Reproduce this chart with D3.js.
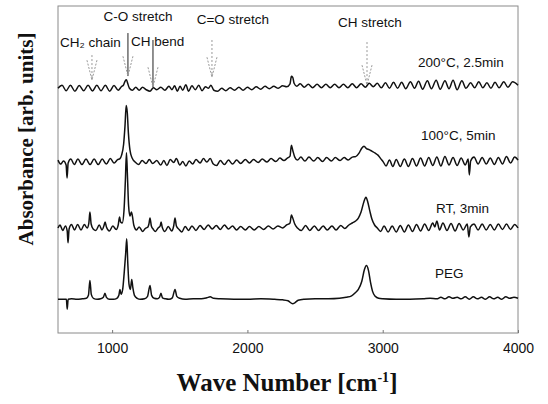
<!DOCTYPE html>
<meta charset="utf-8">
<style>
body { margin: 0; background: #fff; }
.axis path { display: none; }
.axis text { font: 14px "Liberation Sans", Arial, sans-serif; fill: #111; }
.axis line { stroke: #777; }
.note { font: 13.5px "Liberation Sans", Arial, sans-serif; fill: #111; }
.title { font-family: "Liberation Serif", "Times New Roman", serif; font-weight: bold; fill: #111; }
</style>
<svg width="548" height="404" class="top"></svg>
<script src="https://d3js.org/d3.v7.min.js"></script>
<script>

// wave number ticks
var xTicks = [1000, 2000, 3000, 4000];

// spectra: [wave number, absorbance above own baseline] (arb. units)
var peg = [[600,0.0],[640,0.0],[662,0.0],[668,-1.0],[675,0.0],[700,0.05],[740,0.0],[780,0.05],[810,0.1],[825,0.4],[836,1.9],[846,0.5],[862,0.1],[890,0.0],[915,0.05],[935,0.2],[947,0.6],[958,0.2],[980,0.0],[1010,0.0],[1035,0.1],[1050,0.4],[1058,1.0],[1066,0.5],[1078,1.0],[1090,2.8],[1100,4.6],[1108,6.1],[1116,3.6],[1125,1.5],[1135,1.0],[1145,2.0],[1153,1.2],[1165,0.4],[1185,0.1],[1210,0.0],[1240,0.05],[1262,0.3],[1280,1.4],[1292,0.4],[1310,0.1],[1335,0.05],[1350,0.2],[1361,0.6],[1372,0.15],[1395,0.05],[1420,0.0],[1445,0.15],[1465,1.0],[1478,0.3],[1500,0.1],[1540,0.0],[1600,0.05],[1660,0.05],[1700,0.15],[1725,0.25],[1750,0.1],[1800,0.05],[1900,0.0],[2000,0.0],[2100,0.05],[2200,0.0],[2260,-0.05],[2300,-0.15],[2335,-0.45],[2350,-0.35],[2375,-0.1],[2420,0.0],[2500,0.05],[2600,0.05],[2680,0.1],[2730,0.2],[2770,0.35],[2800,0.7],[2820,1.0],[2845,1.8],[2865,3.0],[2880,3.4],[2895,2.9],[2910,1.7],[2925,0.8],[2945,0.3],[2970,0.1],[3000,0.05],[3100,0.0],[3200,0.0],[3300,0.05],[3350,0.1],[3400,0.05],[3430,0.2],[3460,0.05],[3490,0.25],[3520,0.1],[3550,0.2],[3580,0.05],[3610,0.25],[3640,0.0],[3670,0.25],[3700,0.05],[3730,0.2],[3760,0.0],[3790,0.25],[3820,0.05],[3850,0.2],[3880,0.0],[3910,0.25],[3940,0.1],[3970,0.2],[4000,0.1]];

var rt3 = [[600,0.0],[615,0.3],[635,-0.25],[655,0.2],[668,-0.3],[674,-1.5],[682,-0.1],[700,0.35],[722,-0.2],[745,0.35],[770,-0.2],[795,0.35],[815,0.0],[828,0.5],[836,1.6],[845,0.4],[860,-0.1],[880,-0.25],[905,0.3],[925,-0.2],[940,0.25],[948,0.6],[958,0.1],[980,-0.3],[1005,0.2],[1030,-0.15],[1045,0.3],[1055,1.1],[1063,0.6],[1075,0.5],[1088,1.8],[1098,4.8],[1106,7.6],[1114,5.0],[1122,2.2],[1132,1.2],[1142,1.6],[1150,1.2],[1160,0.3],[1180,-0.2],[1200,0.1],[1225,-0.35],[1245,-0.05],[1265,0.1],[1272,0.4],[1280,1.0],[1290,0.2],[1305,-0.15],[1320,-0.35],[1340,0.0],[1355,0.2],[1362,0.6],[1370,0.1],[1390,-0.35],[1415,0.15],[1440,-0.3],[1455,0.2],[1465,1.0],[1475,0.2],[1495,-0.15],[1515,-0.4],[1540,0.15],[1565,-0.25],[1590,0.2],[1620,-0.25],[1650,0.25],[1680,-0.15],[1710,0.3],[1740,-0.1],[1770,0.25],[1800,-0.15],[1830,0.3],[1860,-0.1],[1890,0.2],[1920,-0.2],[1950,0.15],[1985,-0.2],[2015,0.15],[2050,-0.2],[2085,0.15],[2120,-0.15],[2155,0.2],[2190,-0.1],[2225,0.2],[2260,0.0],[2290,0.3],[2315,0.5],[2325,1.3],[2335,1.0],[2350,0.4],[2370,0.0],[2400,-0.25],[2430,0.25],[2460,-0.25],[2495,0.2],[2525,-0.25],[2560,0.2],[2590,-0.2],[2625,0.2],[2655,-0.2],[2690,0.25],[2720,-0.05],[2750,0.3],[2775,0.5],[2800,0.7],[2820,1.0],[2840,1.6],[2860,2.6],[2876,3.1],[2890,2.6],[2905,1.7],[2920,0.9],[2940,0.3],[2960,0.0],[2985,-0.35],[3010,0.2],[3040,-0.4],[3070,0.2],[3100,-0.4],[3130,0.25],[3160,-0.4],[3190,0.3],[3220,-0.35],[3250,0.35],[3280,-0.3],[3310,0.4],[3340,-0.25],[3370,0.5],[3385,0.1],[3400,0.7],[3420,-0.2],[3445,0.5],[3475,-0.25],[3505,0.45],[3535,-0.3],[3565,0.45],[3595,-0.2],[3625,0.4],[3637,-0.9],[3648,0.1],[3675,0.4],[3705,-0.2],[3735,0.4],[3765,-0.2],[3795,0.35],[3825,-0.2],[3855,0.4],[3885,-0.15],[3915,0.4],[3945,-0.15],[3975,0.35],[4000,0.0]];

var c100 = [[600,0.2],[620,-0.2],[640,0.1],[660,-0.3],[667,-1.6],[675,-0.1],[695,0.3],[720,-0.25],[747,0.3],[777,-0.25],[807,0.3],[837,-0.25],[867,0.3],[897,-0.25],[927,0.3],[957,-0.2],[987,0.35],[1015,-0.1],[1040,0.25],[1058,0.35],[1070,0.7],[1085,1.8],[1095,3.6],[1104,5.7],[1112,5.0],[1120,3.0],[1132,1.2],[1148,0.4],[1170,0.0],[1195,-0.25],[1222,0.15],[1250,-0.15],[1275,0.25],[1300,-0.15],[1330,0.15],[1360,-0.3],[1382,0.15],[1405,-0.35],[1430,0.25],[1455,-0.05],[1475,0.35],[1500,-0.3],[1522,0.05],[1545,-0.4],[1570,0.1],[1595,-0.2],[1620,0.25],[1650,-0.1],[1675,0.35],[1700,0.0],[1725,0.35],[1748,-0.2],[1772,-0.35],[1800,0.15],[1830,-0.25],[1860,0.2],[1890,-0.2],[1920,0.2],[1950,-0.15],[1985,0.25],[2015,-0.1],[2045,0.25],[2080,-0.05],[2110,0.3],[2145,0.0],[2175,0.35],[2210,0.05],[2240,0.4],[2270,0.15],[2295,0.4],[2315,0.6],[2325,1.7],[2335,1.2],[2350,0.5],[2370,0.2],[2395,0.5],[2425,0.1],[2455,0.5],[2490,0.1],[2520,0.45],[2555,0.05],[2585,0.45],[2620,0.1],[2650,0.45],[2685,0.15],[2715,0.45],[2745,0.2],[2775,0.5],[2800,0.55],[2825,0.9],[2845,1.4],[2862,1.6],[2880,1.35],[2900,1.25],[2920,1.1],[2945,0.9],[2965,0.7],[2985,0.35],[3005,0.0],[3025,-0.4],[3050,0.2],[3075,-0.45],[3100,0.25],[3130,-0.45],[3160,0.3],[3190,-0.45],[3220,0.35],[3250,-0.4],[3280,0.4],[3310,-0.4],[3340,0.45],[3370,-0.35],[3400,0.5],[3430,-0.4],[3460,0.55],[3490,-0.3],[3520,0.45],[3550,-0.35],[3580,0.4],[3610,-0.3],[3632,0.3],[3640,-1.3],[3650,0.1],[3675,0.5],[3705,-0.2],[3735,0.45],[3765,-0.2],[3795,0.4],[3825,-0.25],[3855,0.45],[3885,-0.2],[3915,0.55],[3945,-0.1],[3975,0.5],[4000,0.2]];

var c200 = [[600,0.0],[630,0.3],[660,-0.25],[692,0.3],[725,-0.3],[757,0.28],[790,-0.25],[822,0.3],[855,-0.28],[887,0.3],[918,-0.25],[950,0.3],[982,-0.3],[1014,0.28],[1045,-0.2],[1068,0.15],[1085,0.35],[1097,0.75],[1106,0.85],[1115,0.5],[1128,0.0],[1150,-0.2],[1175,0.1],[1200,-0.2],[1225,0.1],[1252,-0.15],[1280,-0.3],[1305,0.05],[1330,-0.15],[1360,0.1],[1390,-0.2],[1420,0.2],[1442,-0.15],[1462,0.25],[1482,-0.3],[1502,0.2],[1522,-0.2],[1545,0.35],[1565,-0.3],[1590,0.25],[1615,-0.15],[1640,0.3],[1665,-0.25],[1690,0.15],[1712,0.0],[1730,0.3],[1752,-0.2],[1780,-0.3],[1810,0.0],[1840,-0.25],[1872,0.05],[1905,-0.2],[1937,0.1],[1968,-0.2],[2000,0.1],[2032,-0.15],[2065,0.15],[2098,-0.1],[2130,0.2],[2162,-0.05],[2195,0.2],[2228,0.0],[2260,0.25],[2290,0.15],[2315,0.45],[2325,1.2],[2335,1.1],[2345,0.5],[2365,0.2],[2390,0.45],[2420,0.1],[2450,0.4],[2482,0.05],[2515,0.4],[2547,0.05],[2580,0.4],[2612,0.05],[2645,0.4],[2677,0.05],[2710,0.4],[2742,0.05],[2775,0.45],[2807,0.05],[2840,0.45],[2872,0.1],[2900,0.5],[2930,0.15],[2960,0.5],[2990,0.05],[3020,0.55],[3050,0.0],[3080,0.6],[3110,0.0],[3140,0.6],[3170,-0.05],[3205,0.65],[3235,0.0],[3265,0.7],[3295,-0.1],[3330,0.75],[3360,-0.05],[3395,0.8],[3425,-0.1],[3460,0.75],[3490,-0.05],[3520,0.8],[3550,-0.15],[3585,0.75],[3615,0.0],[3650,0.55],[3680,0.05],[3710,0.65],[3740,0.05],[3770,0.55],[3800,0.0],[3830,0.6],[3860,0.05],[3895,0.65],[3925,0.1],[3960,0.65],[4000,0.3]];

var seriesData = [peg, rt3, c100, c200];
var seriesOffset = [3.4, 10.6, 17.25, 24.7];
var seriesLabel = ["PEG", "RT, 3min", "100\u00b0C, 5min", "200\u00b0C, 2.5min"];
var labelWn = [3386, 3394, 3283, 3261];
var labelAbs = [5.55, 12.16, 19.48, 26.84];

// band annotations
var bandText = ["CH\u2082 chain", "C-O stretch", "CH bend", "C=O stretch", "CH stretch"];
var bandTextWn = [615, 1191, 1140, 1893, 2906];
var bandTextAbs = [28.9, 31.5, 29.0, 31.2, 30.9];
var arrowWn = [851, 1117, 1302, 1738, 2884];
var arrowTop = [28.05, 30.27, 29.57, 29.57, 29.36];
var arrowTip = [25.53, 25.93, 24.82, 25.83, 25.03];
var arrowSolid = [false, true, true, false, false];

var svg = d3.select(".top"),
    width = +svg.attr("width"),
    height = +svg.attr("height");

var x = d3.scaleLinear().domain([600, 4000]).range([58, 518]);
var y = d3.scaleLinear().domain([0, 33]).range([333, 6]);

// frame
svg.append("rect")
    .attr("x", x(600)).attr("y", y(33))
    .attr("width", x(4000) - x(600)).attr("height", y(0) - y(33))
    .attr("fill", "none").attr("stroke", "#8a8a8a").attr("stroke-width", 1);

svg.append("g")
    .attr("class", "axis")
    .attr("transform", "translate(0," + y(0) + ")")
    .call(d3.axisBottom(x).tickValues(xTicks).tickSize(-3).tickPadding(10).tickFormat(d3.format("d")));

var line = d3.line()
    .x(function(d) { return x(d[0]); })
    .curve(d3.curveMonotoneX);

svg.selectAll(".spec")
    .data(seriesData)
    .enter().append("path")
      .attr("class", "spec")
      .attr("fill", "none")
      .attr("stroke", "#111")
      .attr("stroke-width", 1.5)
      .attr("stroke-linejoin", "round")
      .attr("d", function(s, i) {
        return line.y(function(d) { return y(d[1] + seriesOffset[i]); })(s);
      });

svg.selectAll(".slabel")
    .data(seriesLabel)
    .enter().append("text")
      .attr("class", "note")
      .attr("x", function(d, i) { return x(labelWn[i]); })
      .attr("y", function(d, i) { return y(labelAbs[i]); })
      .text(function(d) { return d; });

// annotation text
svg.selectAll(".band")
    .data(bandText)
    .enter().append("text")
      .attr("class", "note")
      .attr("x", function(d, i) { return x(bandTextWn[i]); })
      .attr("y", function(d, i) { return y(bandTextAbs[i]); })
      .attr("text-anchor", function(d, i) { return (i == 0 || i == 2) ? "start" : "middle"; })
      .text(function(d) { return d; });

// arrows
var arrows = svg.selectAll(".arrow")
    .data(arrowWn)
    .enter().append("g")
      .attr("class", "arrow");

arrows.append("line")
    .attr("x1", function(d) { return x(d); })
    .attr("x2", function(d) { return x(d); })
    .attr("y1", function(d, i) { return y(arrowTop[i]); })
    .attr("y2", function(d, i) { return y(arrowTip[i]); })
    .attr("stroke", function(d, i) { return arrowSolid[i] ? "#222" : "#999"; })
    .attr("stroke-width", 1)
    .attr("stroke-dasharray", function(d, i) { return arrowSolid[i] ? null : "2,2"; });

[-5, 5].forEach(function(dx) {
  arrows.append("line")
      .attr("x1", function(d) { return x(d) + dx; })
      .attr("x2", function(d) { return x(d); })
      .attr("y1", function(d, i) { return y(arrowTip[i] + 2); })
      .attr("y2", function(d, i) { return y(arrowTip[i]); })
      .attr("stroke", "#999")
      .attr("stroke-width", 1)
      .attr("stroke-dasharray", "2,1.5");
});

// axis titles
svg.append("text")
    .attr("class", "title")
    .attr("x", 287)
    .attr("y", 391)
    .attr("text-anchor", "middle")
    .style("font-size", "25px")
    .text("Wave Number [cm")
  .append("tspan")
    .attr("dy", -9)
    .style("font-size", "14px")
    .text("-1")
  .select(function() { return this.parentNode; })
  .append("tspan")
    .attr("dy", 9)
    .text("]");

svg.append("text")
    .attr("class", "title")
    .attr("transform", "translate(33,139) rotate(-90)")
    .attr("text-anchor", "middle")
    .style("font-size", "21px")
    .text("Absorbance [arb. units]");

</script>
